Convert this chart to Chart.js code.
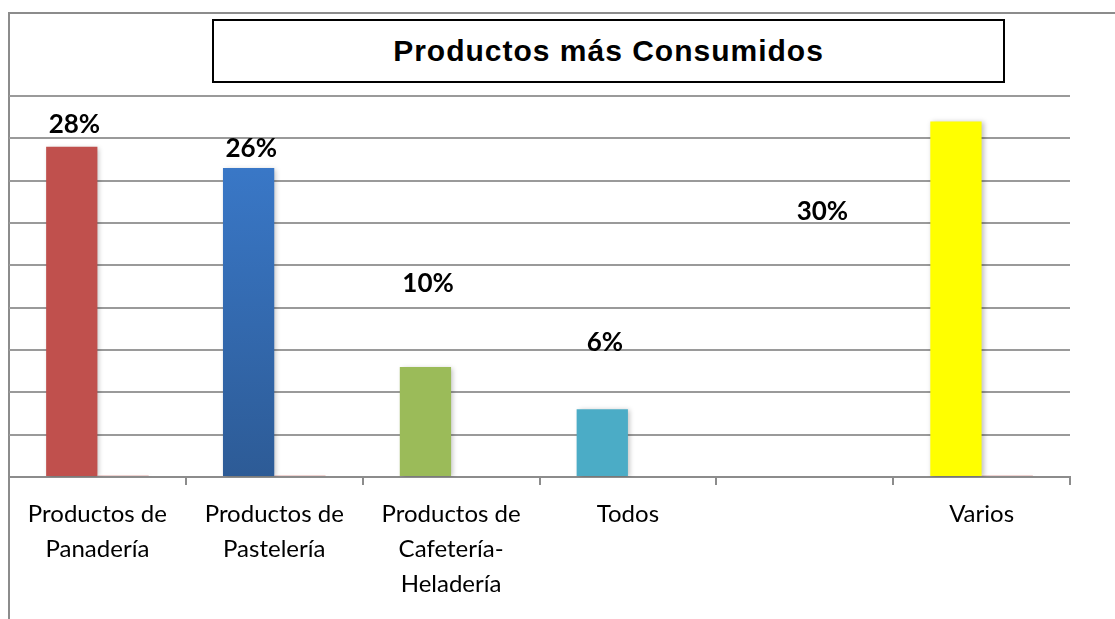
<!DOCTYPE html>
<html>
<head>
<meta charset="utf-8">
<script src="https://cdn.jsdelivr.net/npm/chart.js@4.4.1/dist/chart.umd.min.js"></script>
<style>
  html, body { margin: 0; padding: 0; background: #fff; }
  #wrap { position: relative; width: 1115px; height: 619px; overflow: hidden; }
  #frame { position: absolute; left: 8px; top: 12px; width: 1200px; height: 700px;
           border-left: 2px solid #8c8c8c; border-top: 2px solid #8c8c8c; }
  #titleBox { position: absolute; left: 212px; top: 19px; width: 789px; height: 60px;
              border: 2px solid #000; background: #fff; display: flex; align-items: center;
              justify-content: center; font: bold 30px "Liberation Sans", Arial, sans-serif;
              letter-spacing: 1px; color: #000; }
  canvas { position: absolute; left: 0; top: 0; }
</style>
</head>
<body>
<div id="wrap">
  <div id="frame"></div>
  <canvas id="chart" width="1115" height="619"></canvas>
  <div id="titleBox">Productos más Consumidos</div>
</div>
<script>
const categories = [
  ['Productos de', 'Panadería'],
  ['Productos de', 'Pastelería'],
  ['Productos de', 'Cafetería-', 'Heladería'],
  'Todos',
  '',
  'Varios'
];
const mainValues = [78, 73, 26, 16, null, 84];
const smallValues = [0.3, 0.3, null, null, null, 0.3];
const barColors = ['#C0504D', 'blue-gradient', '#9BBB59', '#4BACC6', '#FFFF00', '#FFFF00'];

// percentage labels, placed at (category position, value) on the chart scales
const labelText = ['28%', '26%', '10%', '6%', '30%'];
const labelCat = [-0.13, 0.87, 1.87, 2.87, 4.1];
const labelValue = [83.2, 77.5, 45.8, 31.7, 62.8];

function barColor(c) {
  const i = c.dataIndex;
  if (barColors[i] !== 'blue-gradient') return barColors[i];
  const area = c.chart.chartArea;
  if (!area) return '#3A7AC8';
  const g = c.chart.ctx.createLinearGradient(0, area.top, 0, area.bottom);
  g.addColorStop(0, '#3C7ED2');
  g.addColorStop(1, '#2D5B96');
  return g;
}

const shadowPlugin = {
  id: 'barShadow',
  beforeDatasetDraw(chart) {
    const ctx = chart.ctx;
    ctx.save();
    ctx.shadowColor = 'rgba(0,0,0,0.25)';
    ctx.shadowBlur = 5;
    ctx.shadowOffsetX = 2;
    ctx.shadowOffsetY = 1;
  },
  afterDatasetDraw(chart) {
    chart.ctx.restore();
  }
};

const pctLabels = {
  id: 'pctLabels',
  afterDatasetsDraw(chart) {
    const ctx = chart.ctx;
    const xs = chart.scales.x, ys = chart.scales.y;
    ctx.save();
    ctx.font = 'bold 26px Lato, "Open Sans", sans-serif';
    ctx.fillStyle = '#000';
    ctx.textAlign = 'center';
    ctx.textBaseline = 'middle';
    labelText.forEach((t, i) => {
      ctx.fillText(t, xs.getPixelForValue(labelCat[i]), ys.getPixelForValue(labelValue[i]));
    });
    ctx.restore();
  }
};

new Chart(document.getElementById('chart'), {
  type: 'bar',
  data: {
    labels: categories,
    datasets: [
      { data: mainValues, backgroundColor: barColor, borderWidth: 0 },
      { data: smallValues, backgroundColor: '#C0504D', borderWidth: 0 }
    ]
  },
  options: {
    responsive: false,
    animation: false,
    categoryPercentage: 0.58,
    barPercentage: 1,
    layout: { padding: { left: 9, right: 45, top: 96, bottom: 0 } },
    plugins: { legend: { display: false }, tooltip: { enabled: false }, title: { display: false } },
    scales: {
      x: {
        grid: { drawOnChartArea: false, color: '#8c8c8c', lineWidth: 2, tickLength: 8, offset: true },
        border: { color: '#8c8c8c', width: 2 },
        ticks: {
          color: '#000',
          font: { family: 'Lato, "Open Sans", sans-serif', size: 24, lineHeight: '35px' },
          padding: 12,
          maxRotation: 0,
          autoSkip: false
        },
        afterFit(scale) { scale.height = 142; }
      },
      y: {
        min: 0,
        max: 90,
        ticks: { display: false, stepSize: 10 },
        grid: { color: '#9a9a9a', lineWidth: 2, drawTicks: false },
        border: { display: false },
        afterFit(scale) { scale.width = 0; }
      }
    }
  },
  plugins: [shadowPlugin, pctLabels]
});
</script>
</body>
</html>
